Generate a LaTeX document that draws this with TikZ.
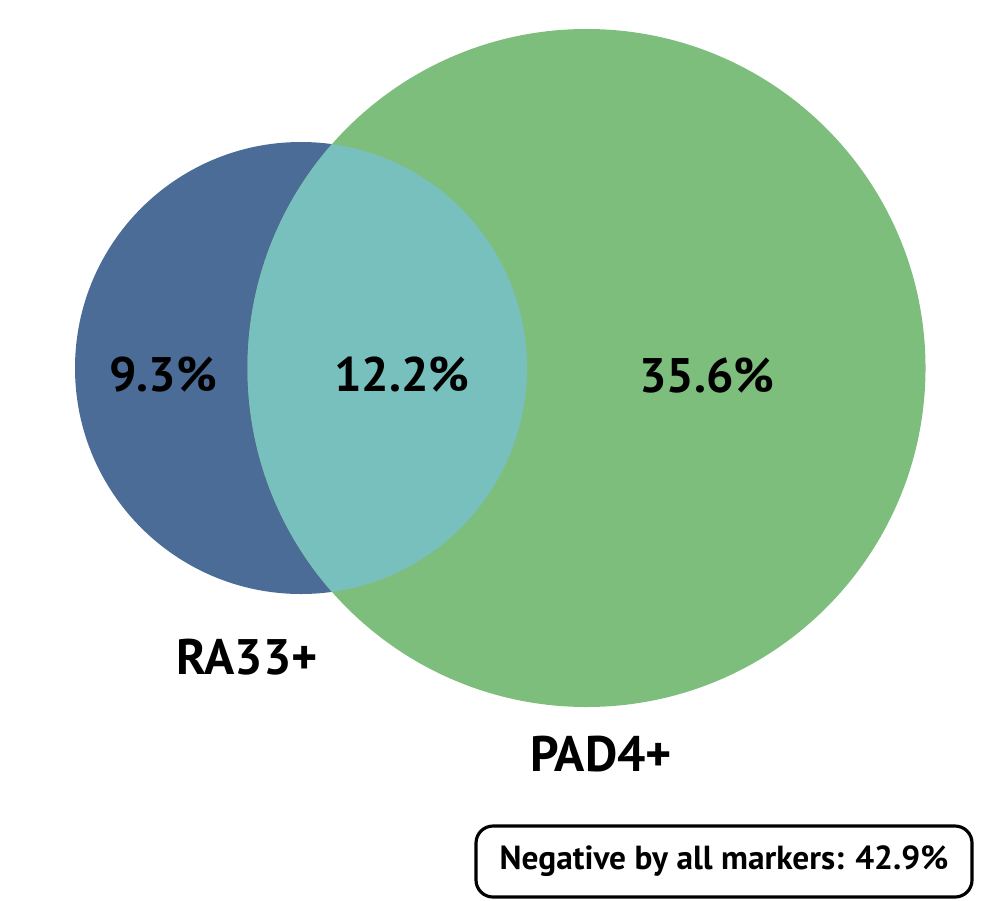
\documentclass[tikz,border=0pt]{standalone}
\usepackage{fontspec}
\setmainfont{PT Sans}
\definecolor{raBlue}{RGB}{76,108,152}
\definecolor{padGreen}{RGB}{125,190,125}
\definecolor{bothTeal}{RGB}{120,192,190}
\tikzset{
  pct/.style={font=\bfseries\fontsize{13.8}{16}\selectfont, text=black},
  setname/.style={font=\bfseries\fontsize{14.2}{17}\selectfont, text=black},
  negbox/.style={draw=black, line width=0.9pt, rounded corners=0.17cm,
    minimum width=4.96cm, minimum height=0.71cm, inner sep=0pt,
    font=\bfseries\fontsize{9.5}{11}\selectfont}
}
\begin{document}
\begin{tikzpicture}
\useasboundingbox (0,0) rectangle (10,9);
\coordinate (RA) at (3.01, 5.32);
\coordinate (PAD) at (5.865, 5.32);

\fill[raBlue] (RA) circle (2.26);
\fill[padGreen] (PAD) circle (3.39);
\begin{scope}
\clip (RA) circle (2.26);
\fill[bothTeal] (PAD) circle (3.39);
\end{scope}

\node[pct] (onlyRA) at (1.63, 5.25) {9.3\%};
\node[pct] (both) at (4.02, 5.25) {12.2\%};
\node[pct] (onlyPAD) at (7.07, 5.24) {35.6\%};

\node[setname] (raName) at (2.47, 2.43) {RA33+};
\node[setname] (padName) at (6.01, 1.46) {PAD4+};

\node[negbox] (neg) at (7.24, 0.385) {Negative by all markers: 42.9\%};
\end{tikzpicture}
\end{document}
